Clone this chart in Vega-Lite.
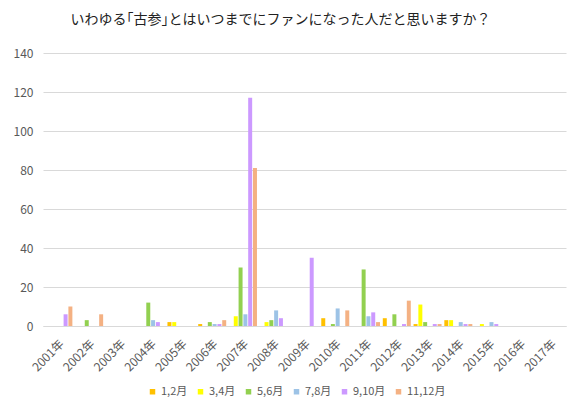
{
  "$schema": "https://vega.github.io/schema/vega-lite/v6.json",
  "width": 523,
  "height": 273,
  "autosize": {"type": "none"},
  "padding": {"left": 43, "top": 53, "right": 14, "bottom": 81},
  "title": {
    "text": "いわゆる｢古参｣とはいつまでにファンになった人だと思いますか？",
    "font": "Noto Sans CJK JP",
    "fontSize": 14,
    "fontWeight": "normal",
    "color": "#222222",
    "anchor": "middle",
    "dx": -24,
    "offset": 20
  },
  "data": {
    "values": [
      {"year": "2001年", "period": "9,10月", "count": 6},
      {"year": "2001年", "period": "11,12月", "count": 10},
      {"year": "2002年", "period": "5,6月", "count": 3},
      {"year": "2002年", "period": "11,12月", "count": 6},
      {"year": "2004年", "period": "5,6月", "count": 12},
      {"year": "2004年", "period": "7,8月", "count": 3},
      {"year": "2004年", "period": "9,10月", "count": 2},
      {"year": "2005年", "period": "1,2月", "count": 2},
      {"year": "2005年", "period": "3,4月", "count": 2},
      {"year": "2006年", "period": "1,2月", "count": 1},
      {"year": "2006年", "period": "5,6月", "count": 2},
      {"year": "2006年", "period": "7,8月", "count": 1},
      {"year": "2006年", "period": "9,10月", "count": 1},
      {"year": "2006年", "period": "11,12月", "count": 3},
      {"year": "2007年", "period": "3,4月", "count": 5},
      {"year": "2007年", "period": "5,6月", "count": 30},
      {"year": "2007年", "period": "7,8月", "count": 6},
      {"year": "2007年", "period": "9,10月", "count": 117},
      {"year": "2007年", "period": "11,12月", "count": 81},
      {"year": "2008年", "period": "3,4月", "count": 2},
      {"year": "2008年", "period": "5,6月", "count": 3},
      {"year": "2008年", "period": "7,8月", "count": 8},
      {"year": "2008年", "period": "9,10月", "count": 4},
      {"year": "2009年", "period": "9,10月", "count": 35},
      {"year": "2010年", "period": "1,2月", "count": 4},
      {"year": "2010年", "period": "5,6月", "count": 1},
      {"year": "2010年", "period": "7,8月", "count": 9},
      {"year": "2010年", "period": "11,12月", "count": 8},
      {"year": "2011年", "period": "5,6月", "count": 29},
      {"year": "2011年", "period": "7,8月", "count": 5},
      {"year": "2011年", "period": "9,10月", "count": 7},
      {"year": "2011年", "period": "11,12月", "count": 2},
      {"year": "2012年", "period": "1,2月", "count": 4},
      {"year": "2012年", "period": "5,6月", "count": 6},
      {"year": "2012年", "period": "9,10月", "count": 1},
      {"year": "2012年", "period": "11,12月", "count": 13},
      {"year": "2013年", "period": "1,2月", "count": 1},
      {"year": "2013年", "period": "3,4月", "count": 11},
      {"year": "2013年", "period": "5,6月", "count": 2},
      {"year": "2013年", "period": "9,10月", "count": 1},
      {"year": "2013年", "period": "11,12月", "count": 1},
      {"year": "2014年", "period": "1,2月", "count": 3},
      {"year": "2014年", "period": "3,4月", "count": 3},
      {"year": "2014年", "period": "7,8月", "count": 2},
      {"year": "2014年", "period": "9,10月", "count": 1},
      {"year": "2014年", "period": "11,12月", "count": 1},
      {"year": "2015年", "period": "3,4月", "count": 1},
      {"year": "2015年", "period": "7,8月", "count": 2},
      {"year": "2015年", "period": "9,10月", "count": 1}
    ]
  },
  "mark": {"type": "bar"},
  "encoding": {
    "x": {
      "field": "year",
      "type": "nominal",
      "scale": {
        "domain": ["2001年","2002年","2003年","2004年","2005年","2006年","2007年","2008年","2009年","2010年","2011年","2012年","2013年","2014年","2015年","2016年","2017年"],
        "paddingInner": 0.09,
        "paddingOuter": 0.045
      },
      "axis": {
        "title": null,
        "labelAngle": -45,
        "labelFont": "Noto Sans CJK JP",
        "labelFontSize": 12,
        "labelColor": "#595959",
        "labelPadding": 12,
        "ticks": false,
        "domainColor": "#D9D9D9",
        "domainWidth": 1
      }
    },
    "xOffset": {
      "field": "period",
      "type": "nominal",
      "scale": {
        "domain": ["1,2月","3,4月","5,6月","7,8月","9,10月","11,12月"],
        "paddingInner": 0.17,
        "paddingOuter": 0
      }
    },
    "y": {
      "field": "count",
      "type": "quantitative",
      "scale": {"domain": [0, 140], "nice": false},
      "axis": {
        "title": null,
        "values": [0, 20, 40, 60, 80, 100, 120, 140],
        "labelFont": "Noto Sans CJK JP",
        "labelFontSize": 12,
        "labelColor": "#595959",
        "labelPadding": 10,
        "ticks": false,
        "domain": false,
        "gridColor": "#D9D9D9",
        "gridWidth": 1
      }
    },
    "color": {
      "field": "period",
      "type": "nominal",
      "scale": {
        "domain": ["1,2月","3,4月","5,6月","7,8月","9,10月","11,12月"],
        "range": ["#FFC000","#FFFF00","#92D050","#9DC3E6","#CC99FF","#F4B183"]
      },
      "legend": {
        "title": null,
        "orient": "none",
        "direction": "horizontal",
        "legendX": 104,
        "legendY": 333,
        "symbolType": "square",
        "symbolSize": 30,
        "symbolStrokeWidth": 0,
        "labelFont": "Noto Sans CJK JP",
        "labelFontSize": 11,
        "labelColor": "#595959",
        "labelOffset": 3,
        "columnPadding": 7
      }
    }
  },
  "config": {"view": {"stroke": null}}
}
